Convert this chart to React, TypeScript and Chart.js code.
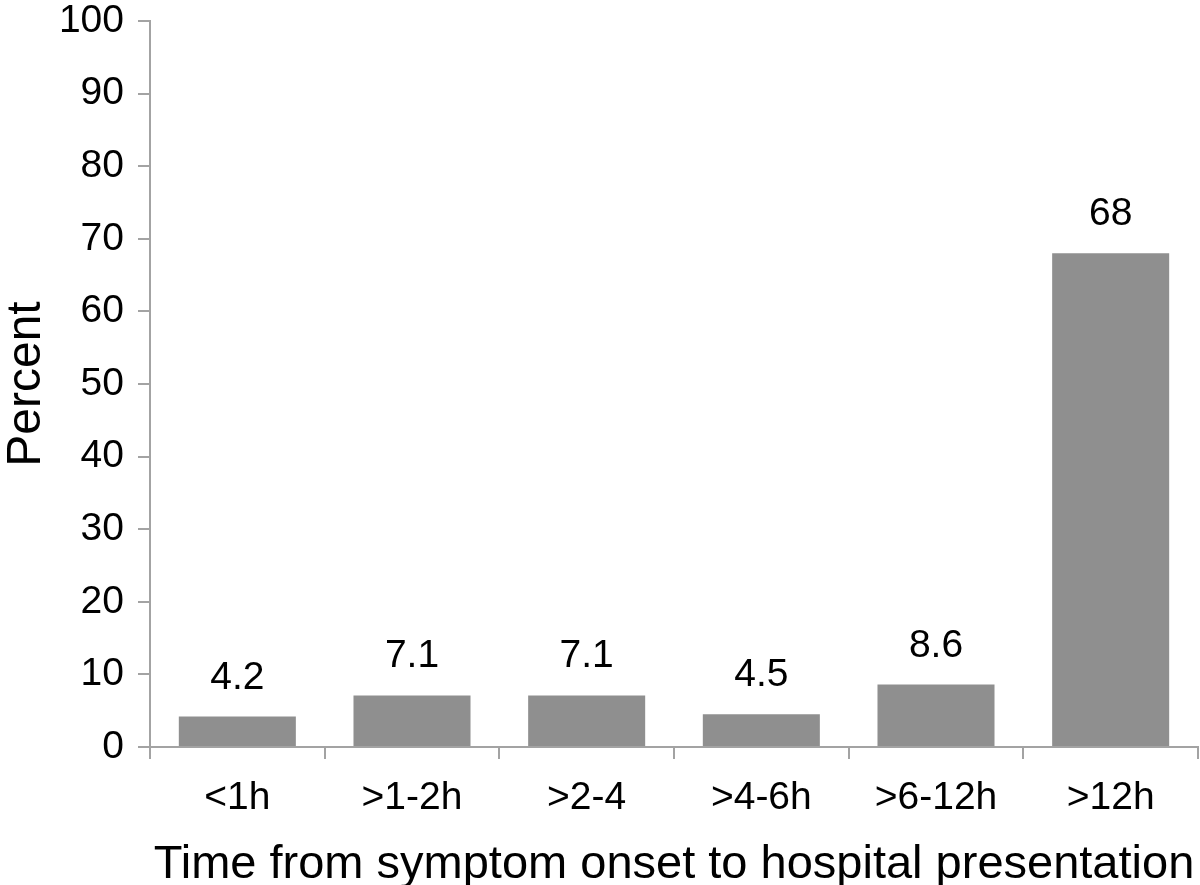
import React, { useEffect, useRef } from "react";
import { Chart, registerables } from "chart.js";

Chart.register(...registerables);

const categories = ["<1h", ">1-2h", ">2-4", ">4-6h", ">6-12h", ">12h"];
const percentValues = [4.2, 7.1, 7.1, 4.5, 8.6, 68];
const yTickMax = 100;
const yTickStep = 10;
const xTitle = "Time from symptom onset to hospital presentation";
const yTitle = "Percent";

const FONT = "'Liberation Sans', Arial, Helvetica, sans-serif";
const AXIS_COLOR = "#a3a3a3";
const BAR_COLOR = "#8f8f8f";

const valueLabels = {
  id: "valueLabels",
  afterDatasetsDraw(chart: any) {
    const ctx = chart.ctx;
    const meta = chart.getDatasetMeta(0);
    ctx.save();
    ctx.font = `39px ${FONT}`;
    ctx.fillStyle = "#000";
    ctx.textAlign = "center";
    ctx.textBaseline = "alphabetic";
    meta.data.forEach((bar: any, i: number) => {
      const v = chart.data.datasets[0].data[i];
      ctx.fillText(String(v), bar.x, bar.y - 28);
    });
    ctx.restore();
  },
};

export default function App() {
  const ref = useRef<HTMLCanvasElement | null>(null);

  useEffect(() => {
    if (!ref.current) return;
    const chart = new Chart(ref.current, {
      type: "bar",
      data: {
        labels: categories,
        datasets: [
          {
            data: percentValues,
            backgroundColor: BAR_COLOR,
            borderWidth: 0,
            barPercentage: 0.67,
            categoryPercentage: 1,
          },
        ],
      },
      options: {
        responsive: false,
        animation: false,
        layout: { padding: { top: 21, right: 2, left: 0, bottom: 0 } },
        plugins: {
          legend: { display: false },
          tooltip: { enabled: false },
          title: { display: false },
        },
        scales: {
          x: {
            offset: true,
            grid: {
              offset: true,
              drawOnChartArea: false,
              drawTicks: true,
              tickLength: 12,
              tickColor: AXIS_COLOR,
              tickWidth: 2,
              color: AXIS_COLOR,
              lineWidth: 2,
            },
            border: { display: true, color: AXIS_COLOR, width: 2 },
            ticks: {
              color: "#000",
              font: { family: FONT, size: 39 },
              padding: 16,
              maxRotation: 0,
              autoSkip: false,
            },
            title: {
              display: true,
              text: xTitle,
              color: "#000",
              font: { family: FONT, size: 47, lineHeight: 0.8 },
              padding: { top: 0, bottom: 1 },
            },
            afterFit(scale: any) {
              scale.height = 138;
            },
          },
          y: {
            min: 0,
            max: yTickMax,
            grid: {
              drawOnChartArea: false,
              drawTicks: true,
              tickLength: 12,
              tickColor: AXIS_COLOR,
              tickWidth: 2,
              color: AXIS_COLOR,
              lineWidth: 2,
            },
            border: { display: true, color: AXIS_COLOR, width: 2 },
            ticks: {
              stepSize: yTickStep,
              color: "#000",
              font: { family: FONT, size: 39 },
              padding: 14,
            },
            title: {
              display: true,
              text: yTitle,
              color: "#000",
              font: { family: FONT, size: 48, lineHeight: 1 },
              padding: { top: 3, bottom: 0 },
            },
            afterFit(scale: any) {
              scale.width = 150;
              scale.paddingTop = 0;
              scale.paddingBottom = 0;
            },
          },
        },
      },
      plugins: [valueLabels],
    });
    return () => chart.destroy();
  }, []);

  return (
    <div style={{ position: "absolute", left: 0, top: 0, width: 1200, height: 885, background: "#fff" }}>
      <canvas ref={ref} width={1200} height={885} />
    </div>
  );
}
